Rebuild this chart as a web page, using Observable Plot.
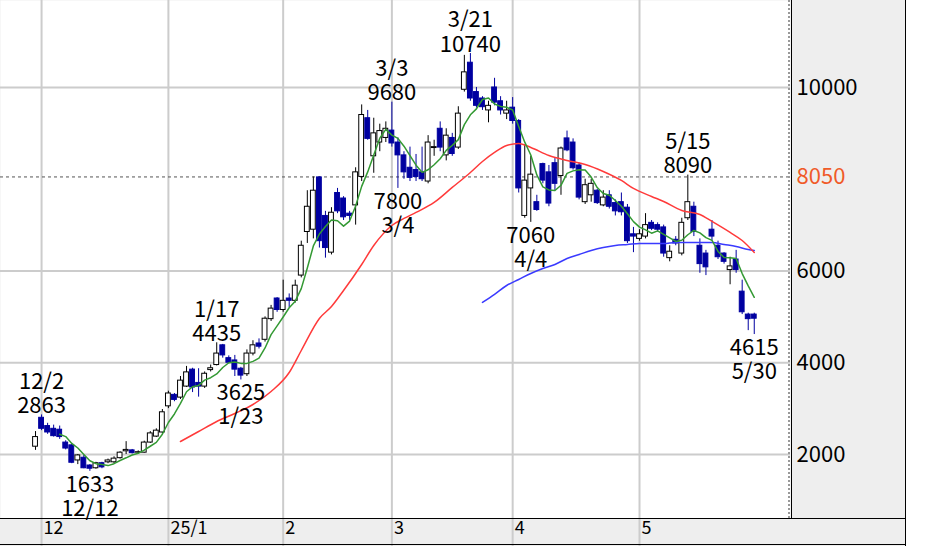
<!DOCTYPE html>
<html><head><meta charset="utf-8">
<script src="https://cdn.jsdelivr.net/npm/d3@7"></script>
<script src="https://cdn.jsdelivr.net/npm/@observablehq/plot@0.6"></script>
<style>
body{margin:0;background:#fff;}
#wrap{position:relative;width:928px;height:546px;overflow:hidden;}
#bg{position:absolute;left:0;top:0;width:905px;height:546px;background:#eeeeee;}
#chart{position:absolute;left:0;top:0;}
.ln{position:absolute;pointer-events:none;}
</style></head><body>
<div id="wrap"><div id="bg"></div><div id="chart"></div>
<div class="ln" style="left:788px;top:0;height:518px;border-left:2px dotted #999"></div>
<div class="ln" style="left:791px;top:0;height:518px;border-left:1px solid #000"></div>
<div class="ln" style="left:0;top:518px;width:905px;border-top:1px solid #000"></div>
<div class="ln" style="left:0;top:544px;width:905px;border-top:1px solid #000"></div>
<div class="ln" style="left:905px;top:0;height:546px;border-left:1px solid #000"></div>
</div>
<script>
const dates = ["11/29","12/2","12/3","12/4","12/5","12/6","12/9","12/10","12/11","12/12","12/13","12/16","12/17","12/18","12/19","12/20","12/23","12/24","12/25","12/26","12/27","12/30","1/6","1/7","1/8","1/9","1/10","1/14","1/15","1/16","1/17","1/20","1/21","1/22","1/23","1/24","1/27","1/28","1/29","1/30","1/31","2/3","2/4","2/5","2/6","2/7","2/10","2/12","2/13","2/14","2/17","2/18","2/19","2/20","2/21","2/25","2/26","2/27","2/28","3/3","3/4","3/5","3/6","3/7","3/10","3/11","3/12","3/13","3/14","3/17","3/18","3/19","3/21","3/24","3/25","3/26","3/27","3/28","3/31","4/1","4/2","4/3","4/4","4/7","4/8","4/9","4/10","4/11","4/14","4/15","4/16","4/17","4/18","4/21","4/22","4/23","4/24","4/25","4/28","4/30","5/1","5/2","5/7","5/8","5/9","5/12","5/13","5/14","5/15","5/16","5/19","5/20","5/21","5/22","5/23","5/26","5/27","5/28","5/29","5/30"];
const open  = [2170,2800,2620,2560,2540,2260,2200,1870,1930,1760,1700,1810,1830,1830,1920,2070,2090,2040,2040,2260,2390,2480,3050,3300,3240,3480,3850,3560,3480,3840,3950,4380,4100,4050,3870,3750,4200,4420,4500,4950,5400,5150,5400,5350,5900,6850,6900,8040,7200,6400,7700,7580,7250,7430,8050,9330,8500,8800,8900,9060,8800,8520,8250,8200,8150,7950,8680,9100,8520,8900,8690,9950,10540,9900,9760,9500,10000,9700,9430,9560,9270,7200,7800,7500,8330,8150,8350,8070,8890,8800,8300,7500,7650,7750,7430,7650,7480,7500,7380,6800,6700,6750,7050,7000,6950,6280,6680,6380,7150,7400,6550,6380,6900,6550,6380,6020,6250,5550,5050,5050];
const high  = [2500,2863,2680,2640,2620,2300,2230,2000,1980,1780,1830,1830,1900,1950,2060,2280,2110,2080,2290,2500,2560,2980,3380,3330,3700,3920,3880,3870,3800,3950,4435,4400,4150,4160,3900,4280,4480,4520,5000,5250,5420,5800,5500,5800,6650,7750,8050,8050,7300,7380,7800,7620,7300,8250,9620,9500,9330,9200,9250,9680,8900,8600,8700,8540,8700,8950,8850,9250,9100,9000,9580,10700,10740,10000,9800,9700,10200,9800,9700,9780,9300,8750,8500,7650,8350,8300,8450,8700,9050,8880,8350,8000,8000,7780,7750,7750,7550,7700,7450,6950,6900,7250,7100,7050,7000,6550,6750,7150,8090,7500,6700,6450,7100,6650,6400,6300,6450,5800,5080,5080];
const low   = [2090,2520,2440,2380,2330,2100,1800,1780,1690,1633,1680,1690,1800,1800,1900,2000,2010,2020,2030,2240,2370,2450,3000,3150,3200,3460,3350,3250,3440,3800,3930,4100,3980,3700,3625,3700,4150,4300,4450,4900,5100,5100,5200,5300,5850,6600,6700,6500,6280,6350,7250,7100,7100,7000,7950,8850,8130,8600,8800,8700,7800,8000,7950,7950,7950,7900,8500,8600,8400,8500,8650,9900,9700,9550,9500,9230,9600,9400,9300,9200,7700,7150,7060,7300,7900,7400,7750,7650,8600,8200,7550,7450,7500,7450,7400,7350,7200,7200,6600,6400,6650,6700,6880,6850,6300,6200,6550,6330,7100,6750,5950,5900,6650,6250,6150,5700,5950,5050,4700,4615];
const close = [2380,2560,2480,2400,2380,2130,1820,1980,1700,1690,1810,1720,1870,1910,2040,2100,2030,2050,2260,2460,2520,2920,3330,3190,3610,3790,3460,3480,3760,3880,4200,4160,4000,3850,3720,4200,4380,4350,4960,5180,5150,5350,5350,5680,6550,7400,7750,6650,6500,7270,7300,7170,7200,8150,9400,8880,9000,9050,9100,8780,8520,8150,8030,8050,8000,8800,8700,8690,8950,8550,9430,10330,9760,9600,9570,9600,9670,9500,9500,9270,7800,7970,8100,7330,7970,7470,7900,8670,8630,8240,7600,7870,7900,7480,7600,7400,7300,7280,6650,6750,6800,7000,6920,6900,6380,6420,6600,7050,7500,6850,6150,6080,6750,6300,6200,6100,6020,5100,4950,4960];
// 25-day line (red): day index and value
const maMidIdx = [24,27,30,33,36,39,42,44,47,49,51,54,56,59,61,63,66,69,72,74,76,78,80,82,85,88,91,94,97,99,102,104,107,110,112,115,117,119];
const maMidVal = [2283,2501,2719,2894,3090,3373,3788,4267,4965,5226,5575,6142,6556,6992,7145,7276,7494,7821,8148,8387,8584,8736,8780,8693,8518,8409,8322,8170,7973,7799,7624,7515,7319,7232,7080,6840,6665,6404];
// 75-day line (blue)
const maLongIdx = [74,76,78,80,82,84,86,88,90,92,94,96,98,100,102,104,106,108,110,112,114,116,118,119];
const maLongVal = [5314,5490,5684,5815,5946,6055,6142,6273,6360,6447,6513,6556,6578,6600,6600,6600,6622,6622,6622,6622,6578,6534,6469,6447];
const monthStarts = ["12/2","1/6","2/3","3/3","4/1","5/1"];
const monthLabels = ["12","25/1","2","3","4","5"];
const yTicks = [2000,4000,6000,10000];
const refPrice = 8050;
const highMarks = ["12/2","1/17","3/3","3/21","5/15"];
const lowMarks = ["12/12","1/23","3/4","4/4","5/30"];

const idx = d => dates.indexOf(d);
const data = dates.map((d,i)=>({i, date:d, open:open[i], high:high[i], low:low[i], close:close[i], up: close[i] >= open[i]}));
const midLine = maMidIdx.map((i,k)=>({i, v: maMidVal[k]}));
const longLine = maLongIdx.map((i,k)=>({i, v: maLongVal[k]}));
const monthIdx = monthStarts.map(idx);
const BLUE = "#0000a0";
const FONT = "'Noto Sans CJK JP','Noto Sans',sans-serif";

const chart = Plot.plot({
  width: 928, height: 546,
  marginLeft: 0, marginRight: 138, marginTop: 0, marginBottom: 28,
  style: {fontFamily: FONT, background: "transparent", overflow: "visible"},
  x: {type: "linear", domain: [-5.8, 125], label: null},
  y: {domain: [605, 11896], label: null},
  color: {type: "identity"},
  marks: [
    Plot.frame({fill: "white", stroke: "none"}),
    Plot.gridY(yTicks, {stroke: "#cccccc", strokeOpacity: 1, strokeWidth: 2}),
    Plot.gridX(monthIdx, {stroke: "#cccccc", strokeOpacity: 1, strokeWidth: 2}),
    Plot.axisX(monthIdx, {tickSize: 28, tickFormat: () => "", stroke: "#cccccc", strokeWidth: 2, label: null}),
    Plot.axisX(monthIdx, {tickSize: 0, tickPadding: 3, textAnchor: "start", dx: 2, fontSize: 18, fill: "#000", label: null,
      tickFormat: d => monthLabels[monthIdx.indexOf(d)]}),
    Plot.ruleY([refPrice], {stroke: "#555", strokeDasharray: "3,3", strokeWidth: 1}),
    Plot.ruleX(data, {x: "i", y1: "low", y2: "high", stroke: d => d.up ? "#000" : BLUE, strokeWidth: 1}),
    Plot.rect(data, {x1: d => d.i - 0.4, x2: d => d.i + 0.4, y1: "open", y2: "close",
      fill: d => d.up ? "#fff" : BLUE, stroke: d => d.up ? "#000" : BLUE, strokeWidth: 1}),
    Plot.lineY(longLine, {x: "i", y: "v", stroke: "#3a3aff", strokeWidth: 1.5, curve: "monotone-x"}),
    Plot.lineY(midLine, {x: "i", y: "v", stroke: "#ff3a3a", strokeWidth: 1.5, curve: "monotone-x"}),
    Plot.lineY(data, Plot.windowY({k: 5, anchor: "end", reduce: "mean", strict: true}, {x: "i", y: "close", stroke: "#339933", strokeWidth: 1.5})),
    Plot.axisY(yTicks, {anchor: "right", tickSize: 0, tickPadding: 6, fontSize: 22, fill: "#000", textAnchor: "start", tickFormat: d => String(d), label: null}),
    Plot.axisY([refPrice], {anchor: "right", tickSize: 0, tickPadding: 6, fontSize: 22, fill: "#f05a28", textAnchor: "start", tickFormat: d => String(d), label: null}),
    Plot.text(highMarks, {x: d => idx(d), y: d => high[idx(d)], text: d => `${d}\n${high[idx(d)]}`,
      lineAnchor: "bottom", dy: -2, fontSize: 22, lineHeight: 1.1, fill: "#000"}),
    Plot.text(lowMarks, {x: d => idx(d), y: d => low[idx(d)], text: d => `${low[idx(d)]}\n${d}`,
      lineAnchor: "top", dy: 3, fontSize: 22, lineHeight: 1.1, fill: "#000"})
  ]
});
document.getElementById("chart").appendChild(chart);
</script>
</body></html>
